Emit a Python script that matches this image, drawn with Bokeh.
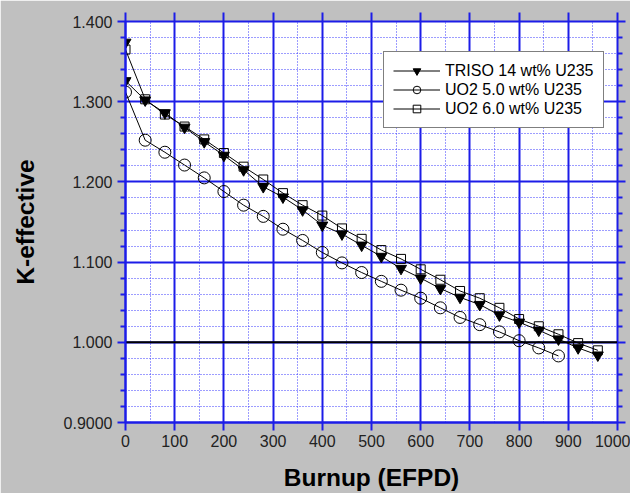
from bokeh.plotting import figure
from bokeh.models import FixedTicker, CustomJSTickFormatter, LinearAxis, Span, Range1d
from bokeh.embed import file_html
from bokeh.resources import INLINE

# ---- data ----
burnup_triso = [0, 0, 40, 80, 120, 160, 200, 240, 280, 320, 360, 400, 440, 480,
                520, 560, 600, 640, 680, 720, 760, 800, 840, 880, 920, 960]
k_triso = [1.374, 1.326, 1.302, 1.286, 1.268, 1.250, 1.233, 1.215, 1.194, 1.181,
           1.165, 1.146, 1.135, 1.121, 1.107, 1.092, 1.080, 1.067, 1.056, 1.047,
           1.034, 1.025, 1.015, 1.004, 0.993, 0.984]

burnup_uo2_50 = [0, 40, 80, 120, 160, 200, 240, 280, 320, 360, 400, 440, 480,
                 520, 560, 600, 640, 680, 720, 760, 800, 840, 880]
k_uo2_50 = [1.312, 1.252, 1.237, 1.221, 1.205, 1.188, 1.171, 1.157, 1.141, 1.127,
            1.112, 1.099, 1.087, 1.076, 1.065, 1.055, 1.043, 1.031, 1.022, 1.013,
            1.002, 0.993, 0.983]

burnup_uo2_60 = [0, 40, 80, 120, 160, 200, 240, 280, 320, 360, 400, 440, 480,
                 520, 560, 600, 640, 680, 720, 760, 800, 840, 880, 920, 960]
k_uo2_60 = [1.365, 1.303, 1.284, 1.269, 1.253, 1.236, 1.219, 1.203, 1.186, 1.171,
            1.158, 1.142, 1.129, 1.115, 1.104, 1.091, 1.078, 1.064, 1.055, 1.043,
            1.029, 1.020, 1.010, 0.999, 0.990]

series_labels = ["TRISO 14 wt% U235", "UO2 5.0 wt% U235", "UO2 6.0 wt% U235"]

x_ticks = [0, 100, 200, 300, 400, 500, 600, 700, 800, 900, 1000]
x_tick_labels = ["0", "100", "200", "300", "400", "500", "600", "700", "800", "900", "1000"]
y_ticks = [0.9, 1.0, 1.1, 1.2, 1.3, 1.4]
y_tick_labels = ["0.9000", "1.000", "1.100", "1.200", "1.300", "1.400"]
critical_k = 1.0

x_minor = [x_ticks[i] + 50 for i in range(len(x_ticks) - 1)]
y_minor = [round(y_ticks[0] + 0.02 * i, 2) for i in range(26) if i % 5 != 0]

FONT = "Liberation Sans"
BLUE = "#1c1ce8"
GRAY = "#c0c0c0"

p = figure(width=630, height=493,
           x_range=Range1d(0, 1000), y_range=Range1d(0.9, 1.4),
           output_backend="svg", toolbar_location=None,
           min_border_left=125, min_border_right=13,
           min_border_top=21, min_border_bottom=69,
           background_fill_color="white", border_fill_color=GRAY,
           outline_line_color=BLUE, outline_line_width=2)

xt = FixedTicker(ticks=x_ticks, minor_ticks=x_minor)
yt = FixedTicker(ticks=y_ticks, minor_ticks=y_minor)

def fmt(tv, tl):
    return CustomJSTickFormatter(args=dict(tv=tv, tl=tl), code="""
        for (let i = 0; i < tv.length; i++) {
            if (Math.abs(tv[i] - tick) < 1e-6) return tl[i];
        }
        return "";
    """)

# bottom axis
xa = p.xaxis[0]
xa.ticker = xt
xa.formatter = fmt(x_ticks, x_tick_labels)
xa.axis_label = "Burnup (EFPD)"
# left axis
ya = p.yaxis[0]
ya.ticker = yt
ya.formatter = fmt(y_ticks, y_tick_labels)
ya.axis_label = "K-effective"

for ax in (xa, ya):
    ax.axis_line_color = BLUE
    ax.axis_line_width = 2
    ax.major_tick_line_color = BLUE
    ax.major_tick_line_width = 2
    ax.major_tick_out = 8
    ax.major_tick_in = 0
    ax.minor_tick_line_color = BLUE
    ax.minor_tick_line_width = 2
    ax.minor_tick_in = 0
    ax.major_label_text_font = FONT
    ax.major_label_text_font_size = "16px"
    ax.major_label_text_color = "#222222"
    ax.axis_label_text_font = FONT
    ax.axis_label_text_font_style = "bold"
    ax.axis_label_text_font_size = "24.5px"
    ax.axis_label_text_color = "black"
xa.minor_tick_out = 0
ya.minor_tick_out = 5
xa.major_label_standoff = 4
xa.axis_label_standoff = 14
ya.major_label_standoff = 5
ya.axis_label_standoff = 22

blank = CustomJSTickFormatter(code="return '';")
right = LinearAxis(ticker=yt, formatter=blank, axis_line_color=None,
                   major_tick_line_color=BLUE, major_tick_line_width=2,
                   major_tick_out=8, major_tick_in=0,
                   minor_tick_line_color=BLUE, minor_tick_line_width=2,
                   minor_tick_out=5, minor_tick_in=0,
                   major_label_standoff=0, axis_label_standoff=0,
                   major_label_text_font_size="1px")
top = LinearAxis(ticker=xt, formatter=blank, axis_line_color=None,
                 major_tick_line_color=BLUE, major_tick_line_width=2,
                 major_tick_out=9, major_tick_in=0,
                 minor_tick_out=0, minor_tick_in=0,
                 major_label_standoff=0, axis_label_standoff=0,
                 major_label_text_font_size="1px")
p.add_layout(right, "right")
p.add_layout(top, "above")

# grids
for g, t in ((p.xgrid[0], xt), (p.ygrid[0], yt)):
    g.ticker = t
    g.grid_line_color = BLUE
    g.grid_line_width = 2
    g.minor_grid_line_color = "#3a3aff"
    g.minor_grid_line_width = 1
    g.minor_grid_line_dash = "1 2"

p.add_layout(Span(location=critical_k, dimension="width",
                  line_color="black", line_width=2, level="underlay"))

# series
p.line(burnup_triso, k_triso, line_color="black", line_width=1,
       legend_label=series_labels[0])
p.scatter(burnup_triso, k_triso, marker="inverted_triangle", size=11,
          fill_color="black", line_color="black", legend_label=series_labels[0])

p.line(burnup_uo2_50, k_uo2_50, line_color="black", line_width=1,
       legend_label=series_labels[1])
p.scatter(burnup_uo2_50, k_uo2_50, marker="circle", size=12,
          fill_alpha=0, line_color="black", line_width=1,
          legend_label=series_labels[1])

p.line(burnup_uo2_60, k_uo2_60, line_color="black", line_width=1,
       legend_label=series_labels[2])
p.scatter(burnup_uo2_60, k_uo2_60, marker="square", size=9,
          fill_alpha=0, line_color="black", line_width=1,
          legend_label=series_labels[2])

lg = p.legend[0]
lg.location = (258, 294)
lg.margin = 0
lg.padding = 9
lg.spacing = 0
lg.glyph_width = 47
lg.glyph_height = 19
lg.label_height = 19
lg.label_standoff = 5
lg.label_text_font = FONT
lg.label_text_font_size = "16px"
lg.label_text_color = "black"
lg.border_line_color = "black"
lg.border_line_width = 1
lg.background_fill_color = "white"
lg.background_fill_alpha = 1

open("out.html", "w").write(file_html(p, INLINE))
